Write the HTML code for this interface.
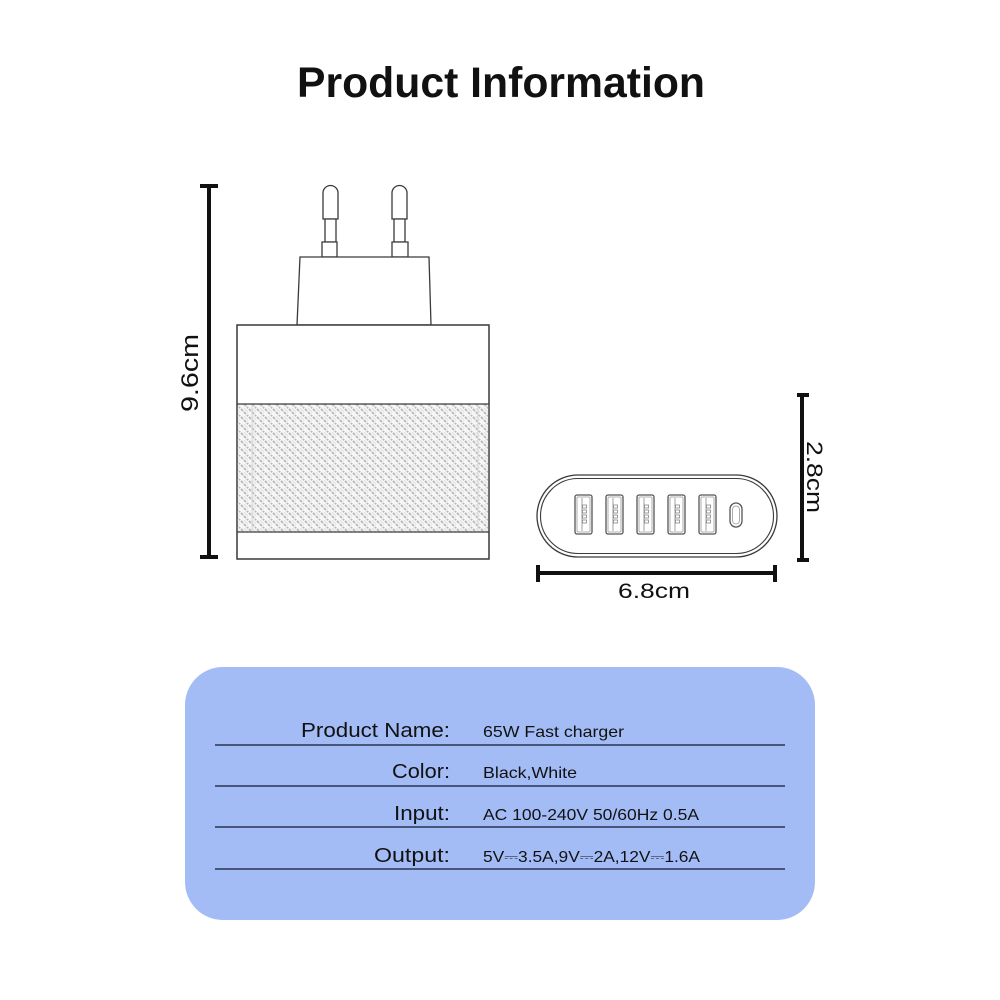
<!DOCTYPE html>
<html>
<head>
<meta charset="utf-8">
<style>
  html,body{margin:0;padding:0;background:#fff;}
  svg{display:block;}
  text{font-family:"Liberation Sans","DejaVu Sans",sans-serif;}
</style>
</head>
<body>
<svg width="1000" height="1000" viewBox="0 0 1000 1000" xmlns="http://www.w3.org/2000/svg">
  <defs>
    <pattern id="carbon" patternUnits="userSpaceOnUse" width="8" height="8">
      <rect width="8" height="8" fill="#f6f6f6"/>
      <path d="M-2,-2 L10,10" stroke="#bdbdbd" stroke-width="2" stroke-dasharray="3 1.2"/>
      <path d="M-2,6 L2,10 M6,-2 L10,2" stroke="#bdbdbd" stroke-width="2" stroke-dasharray="3 1.2"/>
      <path d="M2,-2 L14,10 M-6,2 L6,14" stroke="#dcdcdc" stroke-width="0.8"/>
    </pattern>
  </defs>

  <!-- Title -->
  <text x="297" y="97" font-size="43" font-weight="bold" fill="#111" textLength="408" lengthAdjust="spacingAndGlyphs">Product Information</text>

  <!-- Left dimension bar -->
  <g fill="#111">
    <rect x="207" y="186" width="4" height="371"/>
    <rect x="200" y="184" width="18" height="4"/>
    <rect x="200" y="555" width="18" height="4"/>
  </g>
  <text transform="translate(198,373) rotate(-90)" text-anchor="middle" font-size="24" fill="#111" textLength="78" lengthAdjust="spacingAndGlyphs">9.6cm</text>

  <!-- Charger side view -->
  <g stroke="#3a3a3a" stroke-width="1.3" fill="#fff">
    <path d="M323,219 V193 A7.5,7.5 0 0 1 338,193 V219 Z"/>
    <path d="M325,219 H336 V242 H325 Z"/>
    <path d="M322,242 H337 V257 H322 Z"/>

    <path d="M392,219 V193 A7.5,7.5 0 0 1 407,193 V219 Z"/>
    <path d="M394,219 H405 V242 H394 Z"/>
    <path d="M392,242 H408 V257 H392 Z"/>

    <path d="M300,257 L429,257 L431,325 L297,325 Z"/>
    <rect x="237" y="325" width="252" height="234"/>
  </g>
  <rect x="237.7" y="404" width="250.6" height="128" fill="url(#carbon)"/>
  <line x1="252" y1="405" x2="252" y2="531" stroke="#d8d8d8" stroke-width="1"/>
  <line x1="478" y1="405" x2="478" y2="531" stroke="#d8d8d8" stroke-width="1"/>
  <g stroke="#3a3a3a" stroke-width="1.3">
    <line x1="237" y1="404" x2="489" y2="404"/>
    <line x1="237" y1="532" x2="489" y2="532"/>
    <rect x="237" y="325" width="252" height="234" fill="none"/>
  </g>

  <!-- Front view pill -->
  <rect x="537" y="475" width="240" height="82" rx="41" fill="#fff" stroke="#3a3a3a" stroke-width="1.3"/>
  <rect x="540.5" y="478.5" width="233" height="75" rx="37.5" fill="none" stroke="#3a3a3a" stroke-width="1.1"/>

  <!-- USB-A ports -->
  <g stroke="#555" fill="#fff">
    <g transform="translate(575,495)">
      <rect x="0" y="0" width="17" height="39" rx="2" stroke-width="1.3"/>
      <rect x="2" y="2" width="13" height="35" rx="1" stroke="#999" stroke-width="0.8"/>
      <line x1="7" y1="3" x2="7" y2="36" stroke="#888" stroke-width="0.8"/>
      <g fill="none" stroke="#888" stroke-width="0.8"><rect x="7.5" y="10" width="4" height="3"/><rect x="7.5" y="15" width="4" height="3"/><rect x="7.5" y="20" width="4" height="3"/><rect x="7.5" y="25" width="4" height="3"/></g>
    </g>
    <g transform="translate(606,495)">
      <rect x="0" y="0" width="17" height="39" rx="2" stroke-width="1.3"/>
      <rect x="2" y="2" width="13" height="35" rx="1" stroke="#999" stroke-width="0.8"/>
      <line x1="7" y1="3" x2="7" y2="36" stroke="#888" stroke-width="0.8"/>
      <g fill="none" stroke="#888" stroke-width="0.8"><rect x="7.5" y="10" width="4" height="3"/><rect x="7.5" y="15" width="4" height="3"/><rect x="7.5" y="20" width="4" height="3"/><rect x="7.5" y="25" width="4" height="3"/></g>
    </g>
    <g transform="translate(637,495)">
      <rect x="0" y="0" width="17" height="39" rx="2" stroke-width="1.3"/>
      <rect x="2" y="2" width="13" height="35" rx="1" stroke="#999" stroke-width="0.8"/>
      <line x1="7" y1="3" x2="7" y2="36" stroke="#888" stroke-width="0.8"/>
      <g fill="none" stroke="#888" stroke-width="0.8"><rect x="7.5" y="10" width="4" height="3"/><rect x="7.5" y="15" width="4" height="3"/><rect x="7.5" y="20" width="4" height="3"/><rect x="7.5" y="25" width="4" height="3"/></g>
    </g>
    <g transform="translate(668,495)">
      <rect x="0" y="0" width="17" height="39" rx="2" stroke-width="1.3"/>
      <rect x="2" y="2" width="13" height="35" rx="1" stroke="#999" stroke-width="0.8"/>
      <line x1="7" y1="3" x2="7" y2="36" stroke="#888" stroke-width="0.8"/>
      <g fill="none" stroke="#888" stroke-width="0.8"><rect x="7.5" y="10" width="4" height="3"/><rect x="7.5" y="15" width="4" height="3"/><rect x="7.5" y="20" width="4" height="3"/><rect x="7.5" y="25" width="4" height="3"/></g>
    </g>
    <g transform="translate(699,495)">
      <rect x="0" y="0" width="17" height="39" rx="2" stroke-width="1.3"/>
      <rect x="2" y="2" width="13" height="35" rx="1" stroke="#999" stroke-width="0.8"/>
      <line x1="7" y1="3" x2="7" y2="36" stroke="#888" stroke-width="0.8"/>
      <g fill="none" stroke="#888" stroke-width="0.8"><rect x="7.5" y="10" width="4" height="3"/><rect x="7.5" y="15" width="4" height="3"/><rect x="7.5" y="20" width="4" height="3"/><rect x="7.5" y="25" width="4" height="3"/></g>
    </g>
    <rect x="730" y="503" width="12" height="24" rx="6" stroke-width="1.3"/>
    <rect x="732.5" y="506" width="7" height="18" rx="3.5" stroke="#999" stroke-width="0.8"/>
  </g>

  <!-- Right vertical dimension -->
  <g fill="#111">
    <rect x="800" y="395" width="4" height="165"/>
    <rect x="797" y="393" width="12" height="4"/>
    <rect x="797" y="558" width="12" height="4"/>
  </g>
  <text transform="translate(807,477) rotate(90)" text-anchor="middle" font-size="22" fill="#111" textLength="72" lengthAdjust="spacingAndGlyphs">2.8cm</text>

  <!-- Horizontal dimension -->
  <g fill="#111">
    <rect x="537" y="571" width="239" height="4"/>
    <rect x="536" y="565" width="4" height="17"/>
    <rect x="773" y="565" width="4" height="17"/>
  </g>
  <text x="654" y="598" text-anchor="middle" font-size="21" fill="#111" textLength="72" lengthAdjust="spacingAndGlyphs">6.8cm</text>

  <!-- Info box -->
  <rect x="185" y="667" width="630" height="253" rx="38" fill="#a3bcf5"/>
  <g stroke="#2b3450" stroke-width="1.6">
    <line x1="215" y1="745" x2="785" y2="745"/>
    <line x1="215" y1="786" x2="785" y2="786"/>
    <line x1="215" y1="827" x2="785" y2="827"/>
    <line x1="215" y1="869" x2="785" y2="869"/>
  </g>
  <g font-size="20" fill="#111" text-anchor="end">
    <text x="450" y="737" textLength="149" lengthAdjust="spacingAndGlyphs">Product Name:</text>
    <text x="450" y="778" textLength="58" lengthAdjust="spacingAndGlyphs">Color:</text>
    <text x="450" y="820" textLength="56" lengthAdjust="spacingAndGlyphs">Input:</text>
    <text x="450" y="862" textLength="76" lengthAdjust="spacingAndGlyphs">Output:</text>
  </g>
  <g font-size="16" fill="#111">
    <text x="483" y="737" textLength="141" lengthAdjust="spacingAndGlyphs">65W Fast charger</text>
    <text x="483" y="778" textLength="94" lengthAdjust="spacingAndGlyphs">Black,White</text>
    <text x="483" y="820" textLength="216" lengthAdjust="spacingAndGlyphs">AC 100-240V 50/60Hz 0.5A</text>
    <text x="483" y="862" textLength="217" lengthAdjust="spacingAndGlyphs">5V⎓3.5A,9V⎓2A,12V⎓1.6A</text>
  </g>
</svg>
</body>
</html>
